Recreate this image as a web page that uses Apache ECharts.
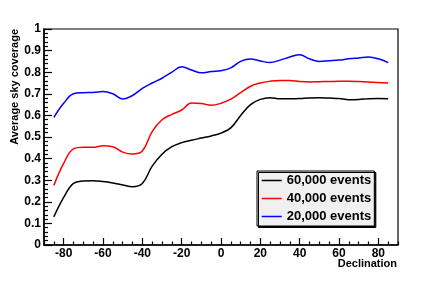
<!DOCTYPE html>
<html>
<head>
<meta charset="utf-8">
<script src="https://cdn.jsdelivr.net/npm/echarts@6/dist/echarts.min.js"></script>
<style>html,body{margin:0;padding:0;background:#fff}#c{width:443px;height:285px}</style>
</head>
<body>
<div id="c"></div>
<script>
const declination = [-85,-80,-75,-70,-65,-60,-55,-50,-45,-40,-35,-30,-25,-20,-15,-10,-5,0,5,10,15,20,25,30,35,40,45,50,55,60,65,70,75,80,85];
const events60k = [0.13,0.22,0.285,0.296,0.298,0.294,0.287,0.278,0.270,0.285,0.365,0.42,0.455,0.474,0.485,0.495,0.505,0.518,0.542,0.60,0.65,0.674,0.682,0.677,0.677,0.678,0.681,0.682,0.680,0.678,0.673,0.674,0.677,0.678,0.677];
const events40k = [0.276,0.378,0.445,0.452,0.452,0.460,0.455,0.43,0.421,0.435,0.525,0.58,0.605,0.625,0.657,0.655,0.647,0.656,0.675,0.705,0.735,0.750,0.758,0.762,0.762,0.757,0.755,0.756,0.757,0.758,0.758,0.757,0.755,0.752,0.750];
const events20k = [0.591,0.656,0.700,0.705,0.706,0.711,0.700,0.676,0.692,0.725,0.750,0.772,0.800,0.825,0.810,0.797,0.803,0.807,0.820,0.850,0.861,0.852,0.845,0.856,0.870,0.881,0.862,0.850,0.853,0.856,0.862,0.866,0.870,0.862,0.844];
const seriesNames = ['60,000 events','40,000 events','20,000 events'];
const xTickLabels = [-80,-60,-40,-20,0,20,40,60,80];

const FONT = '"Liberation Sans", Arial, Helvetica, sans-serif';
const xMinor = [];
for (let v = -90; v <= 90; v += 5) if (v % 20 !== 0) xMinor.push(v);
const yMinor = [];
for (let i = 0; i <= 50; i++) if (i % 5 !== 0) yMinor.push(+(i * 0.02).toFixed(2));

function pairs(ys){ return declination.map((x,i)=>[x, ys[i]]); }

const chart = echarts.init(document.getElementById('c'), null, {renderer:'canvas'});
const lineSeries = (name, data, color) => ({
  name, type:'line', data: pairs(data), smooth: 0.4, symbol:'none',
  lineStyle:{color, width:1.5}, itemStyle:{color}, xAxisIndex:0, yAxisIndex:0
});
chart.setOption({
  animation:false,
  grid:{left:44, top:29, right:45, bottom:40, show:true, borderColor:'#000', borderWidth:1.2, backgroundColor:'transparent'},
  xAxis:[{
    type:'value', min:-90, max:90, position:'bottom',
    axisLine:{show:true, onZero:false, lineStyle:{color:'#000', width:1.5}},
    axisTick:{show:true, inside:true, length:7, customValues:xTickLabels, lineStyle:{color:'#000', width:1.2}},
    axisLabel:{show:true, customValues:xTickLabels, color:'#000', fontFamily:FONT, fontWeight:'bold', fontSize:12, margin:3},
    splitLine:{show:false}
  },{
    type:'value', min:-90, max:90, position:'bottom',
    axisLine:{show:false, onZero:false},
    axisTick:{show:true, inside:true, length:3.5, customValues:xMinor, lineStyle:{color:'#000', width:1.2}},
    axisLabel:{show:false}, splitLine:{show:false}
  }],
  yAxis:[{
    type:'value', min:0, max:1, interval:0.1, position:'left',
    axisLine:{show:true, onZero:false, lineStyle:{color:'#000', width:1.5}},
    axisTick:{show:true, inside:true, length:8, lineStyle:{color:'#000', width:1.2}},
    axisLabel:{color:'#000', fontFamily:FONT, fontWeight:'bold', fontSize:12, margin:3,
      formatter:v=>{ const r=Math.round(v*10)/10; return r===0?'0':(r===1?'1':r.toFixed(1)); }},
    splitLine:{show:false}
  },{
    type:'value', min:0, max:1, position:'left',
    axisLine:{show:false, onZero:false},
    axisTick:{show:true, inside:true, length:4, customValues:yMinor, lineStyle:{color:'#000', width:1.2}},
    axisLabel:{show:false}, splitLine:{show:false}
  }],
  legend:{
    data: seriesNames, orient:'vertical', left:257, top:171,
    backgroundColor:'#f0f0f0', borderColor:'#000', borderWidth:1,
    shadowColor:'#000', shadowBlur:0, shadowOffsetX:1.5, shadowOffsetY:1.5,
    padding:[3,3,3,4], itemGap:5, itemWidth:20, itemHeight:14,
    itemStyle:{color:'transparent', borderWidth:0, opacity:0},
    lineStyle:{width:1.5},
    textStyle:{color:'#000', fontFamily:FONT, fontWeight:'bold', fontSize:13}
  },
  graphic:[
    {type:'text', x:15, y:29, rotation:Math.PI/2,
      style:{text:'Average sky coverage', fill:'#000', font:'bold 11px '+FONT, textAlign:'right', textVerticalAlign:'middle'}},
    {type:'text', x:397, y:264,
      style:{text:'Declination', fill:'#000', font:'bold 11px '+FONT, textAlign:'right', textVerticalAlign:'middle'}}
  ],
  series:[
    lineSeries(seriesNames[0], events60k, '#000000'),
    lineSeries(seriesNames[1], events40k, '#ff0000'),
    lineSeries(seriesNames[2], events20k, '#0000ff')
  ]
});
</script>
</body>
</html>
